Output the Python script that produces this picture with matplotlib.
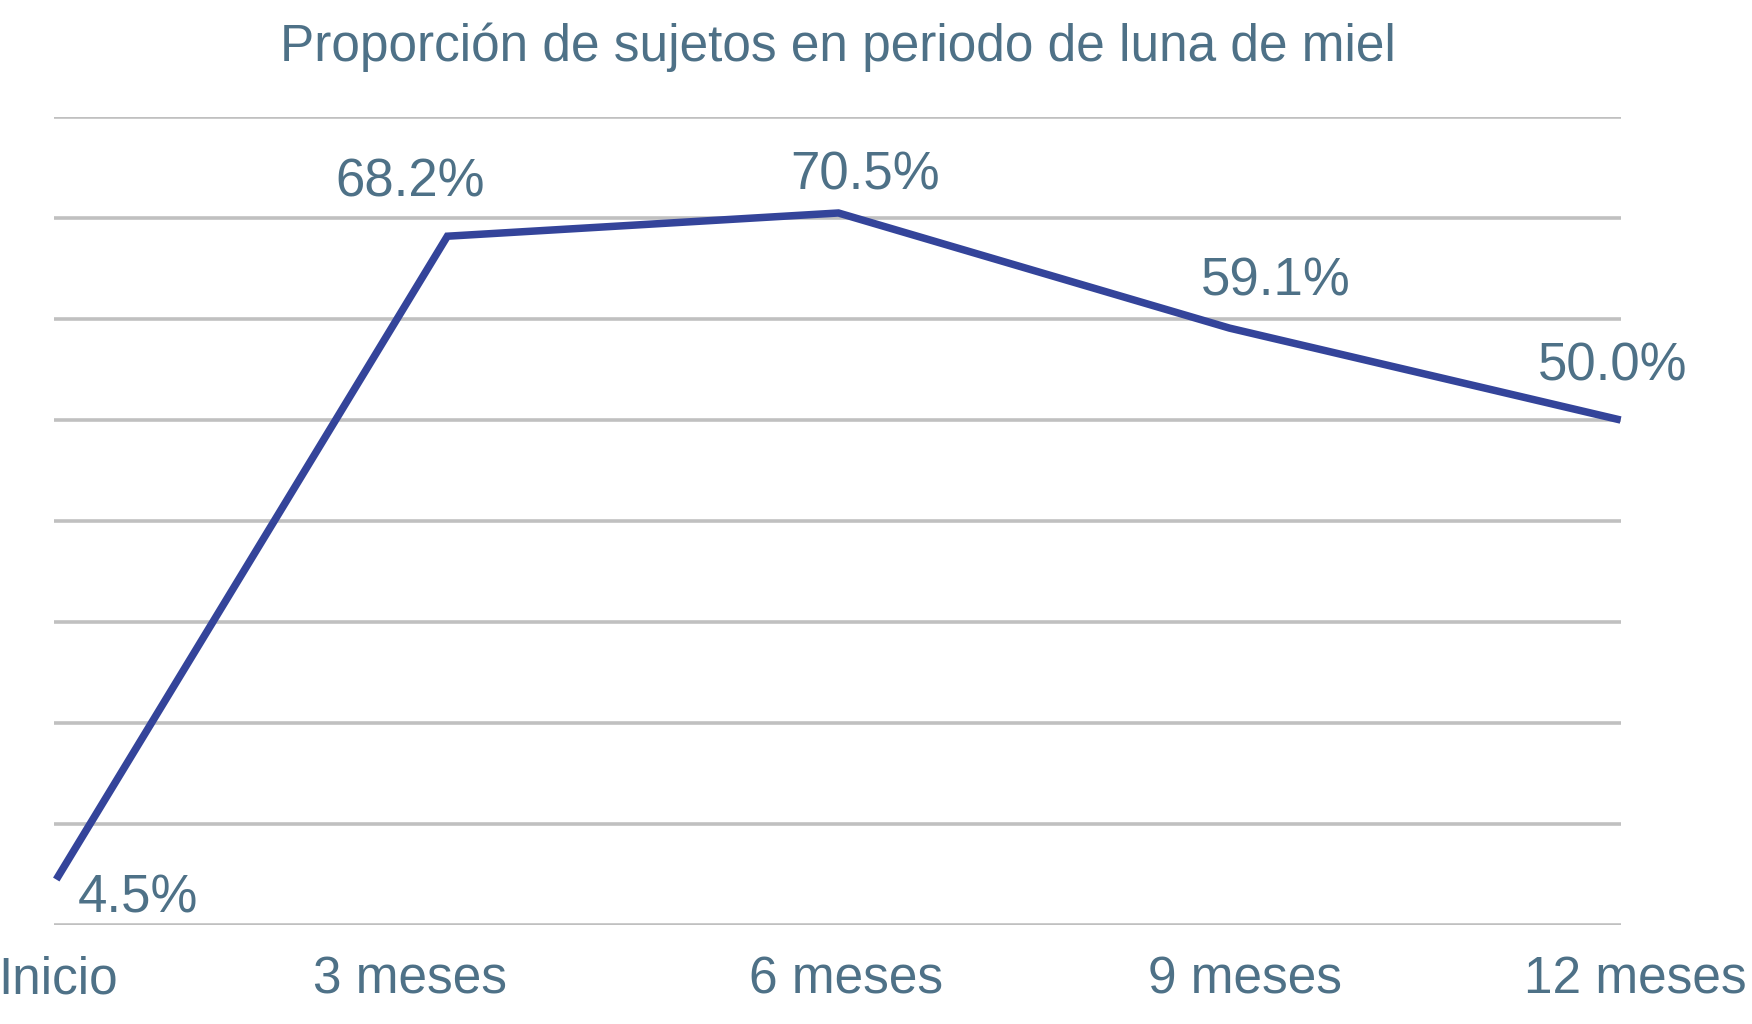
import matplotlib
matplotlib.use('Agg')
import matplotlib.pyplot as plt
import matplotlib.transforms as mtransforms

# --- Data ---
periods = ['Inicio', '3 meses', '6 meses', '9 meses', '12 meses']
proportion = [4.5, 68.2, 70.5, 59.1, 50.0]
labels = ['4.5%', '68.2%', '70.5%', '59.1%', '50.0%']

# label offsets in pixels (dx, dy)
label_offsets = [(82, -19), (-37, 54), (27, 37), (46, 47), (-8, 54)]
# small horizontal shifts of the category labels, in pixels
tick_shifts = [2, -37, 8, 15, 15]

plt.rcParams['font.family'] = ['Liberation Sans', 'DejaVu Sans']

text_color = '#4e7187'
line_color = '#34449a'
grid_color = '#c0c0c0'

fig = plt.figure(figsize=(17.52, 10.24), dpi=100)
ax = fig.add_axes([0.031, 0.0967, 0.894, 0.789])

x = list(range(len(periods)))
ax.plot(x, proportion, color=line_color, linewidth=5.4, clip_on=False,
        solid_joinstyle='miter', solid_capstyle='butt', zorder=3)

for xi, yi, lab, (dx, dy) in zip(x, proportion, labels, label_offsets):
    ax.annotate(lab, (xi, yi), xytext=(dx, dy), textcoords='offset pixels',
                ha='center', va='center', fontsize=38, color=text_color)

ax.set_xlim(-0.005, 3.98)
ax.set_ylim(0, 80)
ax.set_yticks(range(0, 81, 10))
ax.yaxis.grid(True, color=grid_color, linewidth=2.6)
ax.set_axisbelow(True)
ax.tick_params(axis='y', left=False, labelleft=False)
ax.set_xticks(x)
ax.set_xticklabels(periods)
ax.tick_params(axis='x', length=0, pad=22, labelsize=37, labelcolor=text_color)
for s in ax.spines.values():
    s.set_visible(False)

for lbl, sh in zip(ax.get_xticklabels(), tick_shifts):
    lbl.set_transform(lbl.get_transform() +
                      mtransforms.ScaledTranslation(sh / 100, 0, fig.dpi_scale_trans))

fig.text(0.478, 0.954, 'Proporción de sujetos en periodo de luna de miel',
         ha='center', va='center', fontsize=37, color=text_color)

fig.savefig('out.png', dpi=100)
